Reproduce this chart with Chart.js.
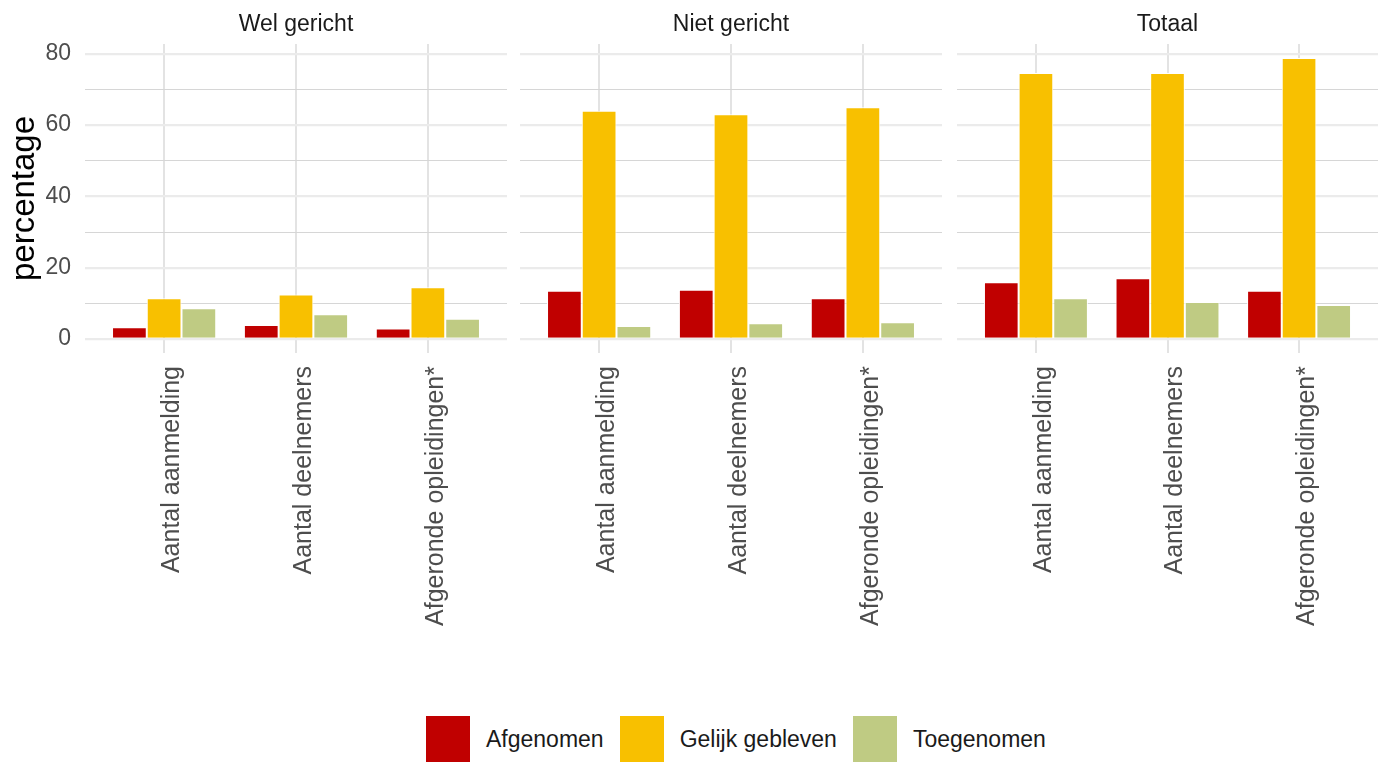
<!DOCTYPE html>
<html>
<head>
<meta charset="utf-8">
<script src="https://cdn.jsdelivr.net/npm/chart.js"></script>
<style>
  html, body { margin: 0; padding: 0; background: #fff; }
  #wrap { position: relative; width: 1387px; height: 762px; overflow: hidden; font-family: "Liberation Sans", Arial, sans-serif; }
  canvas { position: absolute; top: 0; }
  .facet { position: absolute; top: 8px; height: 30px; line-height: 30px; text-align: center; font-size: 23px; color: #1a1a1a; }
  #legend { position: absolute; left: 426px; top: 716px; display: flex; align-items: center; }
  .key { width: 44px; height: 46px; margin-right: 16px; }
  .lbl { font-size: 23px; color: #1a1a1a; margin-right: 16px; }
</style>
</head>
<body>
<div id="wrap">
  <canvas id="c0" width="512" height="700" style="left:0px"></canvas>
  <canvas id="c1" width="427" height="700" style="left:520px"></canvas>
  <canvas id="c2" width="426" height="700" style="left:957px"></canvas>
  <div class="facet" style="left:85px;width:422px">Wel gericht</div>
  <div class="facet" style="left:520px;width:422px">Niet gericht</div>
  <div class="facet" style="left:957px;width:421px">Totaal</div>
  <div id="legend"></div>
</div>
<script>
const categories = ['Aantal aanmelding', 'Aantal deelnemers', 'Afgeronde opleidingen*'];
const seriesNames = ['Afgenomen', 'Gelijk gebleven', 'Toegenomen'];
const seriesColors = ['#c00000', '#f8c000', '#bfcb83'];
const yTicks = [0, 10, 20, 30, 40, 50, 60, 70, 80];

// values per facet, one array per series
const welAfgenomen = [3.3, 3.9, 2.9];
const welGelijk = [11.4, 12.5, 14.5];
const welToegenomen = [8.6, 6.9, 5.7];

const nietAfgenomen = [13.5, 13.8, 11.4];
const nietGelijk = [64.0, 63.0, 65.0];
const nietToegenomen = [3.6, 4.4, 4.7];

const totAfgenomen = [15.9, 17.0, 13.5];
const totGelijk = [74.6, 74.6, 78.8];
const totToegenomen = [11.4, 10.4, 9.5];

const facets = [
  [welAfgenomen, welGelijk, welToegenomen],
  [nietAfgenomen, nietGelijk, nietToegenomen],
  [totAfgenomen, totGelijk, totToegenomen]
];

const font = 'Liberation Sans, Arial, sans-serif';

function makeChart(id, series, first) {
  const datasets = series.map((vals, i) => ({
    label: seriesNames[i],
    data: vals.map((v, j) => ({ x: j + 1, y: v })),
    backgroundColor: seriesColors[i],
    borderColor: '#ffffff',
    borderWidth: 1,
    categoryPercentage: 0.79,
    barPercentage: 1
  }));

  return new Chart(document.getElementById(id), {
    type: 'bar',
    data: { datasets },
    options: {
      responsive: false,
      animation: false,
      devicePixelRatio: 1,
      layout: { padding: { top: 44, right: 5, left: 0, bottom: 0 } },
      plugins: { legend: { display: false }, tooltip: { enabled: false } },
      scales: {
        x: {
          type: 'linear',
          min: 0.4,
          max: 3.6,
          offset: false,
          afterBuildTicks: s => { s.ticks = [1, 2, 3].map(v => ({ value: v })); },
          afterFit: s => { s.height = 347; },
          border: { display: false },
          grid: { color: '#e3e3e3', lineWidth: 2, drawTicks: false, offset: false },
          ticks: {
            autoSkip: false,
            minRotation: 90,
            maxRotation: 90,
            padding: 13,
            labelOffset: 8,
            color: '#4d4d4d',
            font: { family: font, size: 25 },
            callback: v => categories[v - 1]
          }
        },
        y: {
          min: -3.94,
          max: 82.74,
          afterBuildTicks: s => { s.ticks = yTicks.map(v => ({ value: v })); },
          afterFit: s => { s.width = first ? 85 : 0; },
          border: { display: false },
          grid: {
            drawTicks: false,
            color: c => (c.tick && c.tick.value % 20 === 0) ? '#ebebeb' : '#d6d6d6',
            lineWidth: c => (c.tick && c.tick.value % 20 === 0) ? 2.2 : 1
          },
          ticks: {
            display: first,
            padding: 14,
            color: '#4d4d4d',
            font: { family: font, size: 23 },
            callback: v => (v % 20 === 0 ? String(v) : '')
          },
          title: {
            display: first,
            text: 'percentage',
            color: '#000000',
            padding: { top: 5, bottom: 0 },
            font: { family: font, size: 33 }
          }
        }
      }
    }
  });
}

facets.forEach((series, i) => makeChart('c' + i, series, i === 0));

const legend = document.getElementById('legend');
seriesNames.forEach((name, i) => {
  const k = document.createElement('div');
  k.className = 'key';
  k.style.background = seriesColors[i];
  const t = document.createElement('div');
  t.className = 'lbl';
  t.textContent = name;
  legend.appendChild(k);
  legend.appendChild(t);
});
</script>
</body>
</html>
